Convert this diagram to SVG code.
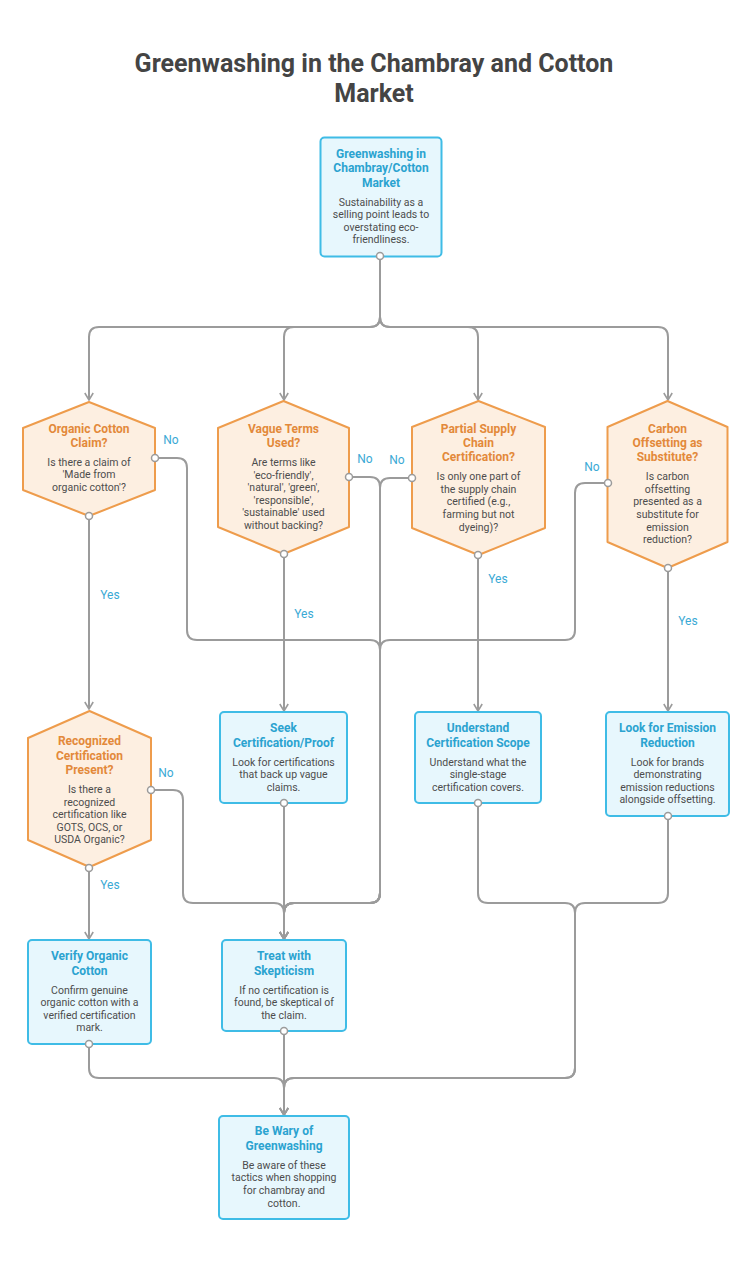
<svg xmlns="http://www.w3.org/2000/svg" width="753" height="1267" viewBox="0 0 753 1267">
<style>
.bg{fill:#ffffff}
.box{fill:#E7F7FD;stroke:#3FBCE6;stroke-width:2}
.hex{fill:#FDEFE1;stroke:#EE9C4C;stroke-width:2;stroke-linejoin:round}
.bt{font-family:Roboto,"Liberation Sans",sans-serif;font-weight:bold;font-size:12px;fill:#2BA3D0;text-anchor:middle;dominant-baseline:central}
.ht{font-family:Roboto,"Liberation Sans",sans-serif;font-weight:bold;font-size:12px;fill:#E3893A;text-anchor:middle;dominant-baseline:central}
.tx{font-family:Roboto,"Liberation Sans",sans-serif;font-size:10.5px;fill:#4d4d4d;text-anchor:middle;dominant-baseline:central}
.lb{font-family:Roboto,"Liberation Sans",sans-serif;font-size:12px;fill:#3AA9D5;text-anchor:middle;dominant-baseline:central}
.title{font-family:Roboto,"Liberation Sans",sans-serif;font-weight:bold;font-size:25px;fill:#444444;text-anchor:middle}
.c{fill:none;stroke:#9B9B9B;stroke-width:2}
.dot{fill:#ffffff;stroke:#9B9B9B;stroke-width:1.5}
</style>
<defs>
<marker id="arr" viewBox="0 0 10 10" refX="9" refY="5" markerWidth="10" markerHeight="10" markerUnits="userSpaceOnUse" orient="auto">
<path d="M2,0.8 L9,5 L2,9.2" fill="none" stroke="#9B9B9B" stroke-width="1.6"/>
</marker>
</defs>
<rect class="bg" x="0" y="0" width="753" height="1267"/>
<text class="title" x="374" y="72">Greenwashing in the Chambray and Cotton</text>
<text class="title" x="374" y="102">Market</text>

<g id="connectors">
<path class="c" marker-end="url(#arr)" d="M380,256 V317 Q380,327 370,327 H99 Q89,327 89,337 V400"/>
<path class="c" marker-end="url(#arr)" d="M380,256 V317 Q380,327 370,327 H294 Q284,327 284,337 V400"/>
<path class="c" marker-end="url(#arr)" d="M380,256 V317 Q380,327 390,327 H468 Q478,327 478,337 V400"/>
<path class="c" marker-end="url(#arr)" d="M380,256 V317 Q380,327 390,327 H658 Q668,327 668,337 V400"/>
<path class="c" marker-end="url(#arr)" d="M89,516 V709"/>
<path class="c" marker-end="url(#arr)" d="M284,554 V711"/>
<path class="c" marker-end="url(#arr)" d="M478,555 V711"/>
<path class="c" marker-end="url(#arr)" d="M668,568 V711"/>
<path class="c" marker-end="url(#arr)" d="M155,458 H177 Q187,458 187,468 V630 Q187,640 197,640 H370 Q380,640 380,650 V893 Q380,903 370,903 H294 Q284,903 284,913 V939"/>
<path class="c" marker-end="url(#arr)" d="M349,477 H370 Q380,477 380,487 V893 Q380,903 370,903 H294 Q284,903 284,913 V939"/>
<path class="c" marker-end="url(#arr)" d="M412,478 H390 Q380,478 380,488 V893 Q380,903 370,903 H294 Q284,903 284,913 V939"/>
<path class="c" marker-end="url(#arr)" d="M608,483 H585 Q575,483 575,493 V630 Q575,640 565,640 H390 Q380,640 380,650 V893 Q380,903 370,903 H294 Q284,903 284,913 V939"/>
<path class="c" marker-end="url(#arr)" d="M151,790 H173 Q183,790 183,800 V893 Q183,903 193,903 H274 Q284,903 284,913 V939"/>
<path class="c" marker-end="url(#arr)" d="M284,803 V939"/>
<path class="c" marker-end="url(#arr)" d="M89,868 V939"/>
<path class="c" marker-end="url(#arr)" d="M478,803 V893 Q478,903 488,903 H565 Q575,903 575,913 V1068 Q575,1078 565,1078 H294 Q284,1078 284,1088 V1115"/>
<path class="c" marker-end="url(#arr)" d="M668,816 V893 Q668,903 658,903 H585 Q575,903 575,913 V1068 Q575,1078 565,1078 H294 Q284,1078 284,1088 V1115"/>
<path class="c" marker-end="url(#arr)" d="M89,1044 V1068 Q89,1078 99,1078 H274 Q284,1078 284,1088 V1115"/>
<path class="c" marker-end="url(#arr)" d="M284,1031 V1115"/>
<text class="lb" x="110" y="595">Yes</text>
<text class="lb" x="304" y="614">Yes</text>
<text class="lb" x="498" y="579">Yes</text>
<text class="lb" x="688" y="621">Yes</text>
<text class="lb" x="110" y="885">Yes</text>
<text class="lb" x="171" y="440">No</text>
<text class="lb" x="365" y="459">No</text>
<text class="lb" x="397" y="460">No</text>
<text class="lb" x="592" y="467">No</text>
<text class="lb" x="166" y="773">No</text>
</g>

<g id="n-top">
<rect class="box" x="320.5" y="137.5" width="121" height="119" rx="4"/>
<text class="bt" x="381" y="154">Greenwashing in</text>
<text class="bt" x="381" y="168">Chambray/Cotton</text>
<text class="bt" x="381" y="183">Market</text>
<text class="tx" x="381" y="202.5">Sustainability as a</text>
<text class="tx" x="381" y="214.5">selling point leads to</text>
<text class="tx" x="381" y="227">overstating eco-</text>
<text class="tx" x="381" y="239.5">friendliness.</text>
</g>

<g id="n-organic">
<polygon class="hex" points="89,402 155,428 155,490 89,516 23,490 23,428"/>
<text class="ht" x="89" y="428.5">Organic Cotton</text>
<text class="ht" x="89" y="443">Claim?</text>
<text class="tx" x="89" y="462">Is there a claim of</text>
<text class="tx" x="89" y="474.5">'Made from</text>
<text class="tx" x="89" y="487">organic cotton'?</text>
</g>

<g id="n-vague">
<polygon class="hex" points="283.5,401 349,428 349,527 283.5,554 218,527 218,428"/>
<text class="ht" x="283.5" y="428.5">Vague Terms</text>
<text class="ht" x="283.5" y="443">Used?</text>
<text class="tx" x="283.5" y="462">Are terms like</text>
<text class="tx" x="283.5" y="475">'eco-friendly',</text>
<text class="tx" x="283.5" y="487.5">'natural', 'green',</text>
<text class="tx" x="283.5" y="500">'responsible',</text>
<text class="tx" x="283.5" y="512.5">'sustainable' used</text>
<text class="tx" x="283.5" y="525">without backing?</text>
</g>

<g id="n-partial">
<polygon class="hex" points="478.5,401 545,427 545,528 478.5,555 412,528 412,427"/>
<text class="ht" x="478.5" y="428.5">Partial Supply</text>
<text class="ht" x="478.5" y="442.5">Chain</text>
<text class="ht" x="478.5" y="456.5">Certification?</text>
<text class="tx" x="478.5" y="476">Is only one part of</text>
<text class="tx" x="478.5" y="489">the supply chain</text>
<text class="tx" x="478.5" y="501">certified (e.g.,</text>
<text class="tx" x="478.5" y="514">farming but not</text>
<text class="tx" x="478.5" y="527">dyeing)?</text>
</g>

<g id="n-carbon">
<polygon class="hex" points="667.5,401 727.5,427 727.5,542 667.5,568 607.5,542 607.5,427"/>
<text class="ht" x="667.5" y="428.5">Carbon</text>
<text class="ht" x="667.5" y="442.5">Offsetting as</text>
<text class="ht" x="667.5" y="456.5">Substitute?</text>
<text class="tx" x="667.5" y="476">Is carbon</text>
<text class="tx" x="667.5" y="489">offsetting</text>
<text class="tx" x="667.5" y="501">presented as a</text>
<text class="tx" x="667.5" y="514">substitute for</text>
<text class="tx" x="667.5" y="527">emission</text>
<text class="tx" x="667.5" y="539">reduction?</text>
</g>

<g id="n-recognized">
<polygon class="hex" points="89.5,711 151,738 151,840 89.5,867 28,840 28,738"/>
<text class="ht" x="89.5" y="741">Recognized</text>
<text class="ht" x="89.5" y="755.5">Certification</text>
<text class="ht" x="89.5" y="770">Present?</text>
<text class="tx" x="89.5" y="789">Is there a</text>
<text class="tx" x="89.5" y="802">recognized</text>
<text class="tx" x="89.5" y="814">certification like</text>
<text class="tx" x="89.5" y="827">GOTS, OCS, or</text>
<text class="tx" x="89.5" y="839">USDA Organic?</text>
</g>

<g id="n-seek">
<rect class="box" x="220" y="712" width="127" height="91" rx="4"/>
<text class="bt" x="283.5" y="728">Seek</text>
<text class="bt" x="283.5" y="742.5">Certification/Proof</text>
<text class="tx" x="283.5" y="762">Look for certifications</text>
<text class="tx" x="283.5" y="774.5">that back up vague</text>
<text class="tx" x="283.5" y="787">claims.</text>
</g>

<g id="n-understand">
<rect class="box" x="415" y="712" width="126" height="91" rx="4"/>
<text class="bt" x="478" y="728">Understand</text>
<text class="bt" x="478" y="742.5">Certification Scope</text>
<text class="tx" x="478" y="762">Understand what the</text>
<text class="tx" x="478" y="774.5">single-stage</text>
<text class="tx" x="478" y="787">certification covers.</text>
</g>

<g id="n-emission">
<rect class="box" x="606" y="712" width="123" height="104" rx="4"/>
<text class="bt" x="667.5" y="728">Look for Emission</text>
<text class="bt" x="667.5" y="742.5">Reduction</text>
<text class="tx" x="667.5" y="762">Look for brands</text>
<text class="tx" x="667.5" y="774.5">demonstrating</text>
<text class="tx" x="667.5" y="787">emission reductions</text>
<text class="tx" x="667.5" y="799.5">alongside offsetting.</text>
</g>

<g id="n-verify">
<rect class="box" x="28" y="940" width="123" height="104" rx="4"/>
<text class="bt" x="89.5" y="956">Verify Organic</text>
<text class="bt" x="89.5" y="970.5">Cotton</text>
<text class="tx" x="89.5" y="990.5">Confirm genuine</text>
<text class="tx" x="89.5" y="1002.5">organic cotton with a</text>
<text class="tx" x="89.5" y="1015">verified certification</text>
<text class="tx" x="89.5" y="1027.5">mark.</text>
</g>

<g id="n-treat">
<rect class="box" x="222" y="940" width="124" height="91" rx="4"/>
<text class="bt" x="284" y="956">Treat with</text>
<text class="bt" x="284" y="970.5">Skepticism</text>
<text class="tx" x="284" y="990.5">If no certification is</text>
<text class="tx" x="284" y="1002.5">found, be skeptical of</text>
<text class="tx" x="284" y="1015">the claim.</text>
</g>

<g id="n-wary">
<rect class="box" x="219" y="1116" width="130" height="103" rx="4"/>
<text class="bt" x="284" y="1131">Be Wary of</text>
<text class="bt" x="284" y="1145.5">Greenwashing</text>
<text class="tx" x="284" y="1165">Be aware of these</text>
<text class="tx" x="284" y="1177.5">tactics when shopping</text>
<text class="tx" x="284" y="1190">for chambray and</text>
<text class="tx" x="284" y="1203">cotton.</text>
</g>

<g id="dots">
<circle class="dot" cx="380" cy="256" r="3.5"/>
<circle class="dot" cx="155" cy="458" r="3.5"/>
<circle class="dot" cx="89" cy="516" r="3.5"/>
<circle class="dot" cx="349" cy="477" r="3.5"/>
<circle class="dot" cx="284" cy="554" r="3.5"/>
<circle class="dot" cx="412" cy="478" r="3.5"/>
<circle class="dot" cx="478" cy="555" r="3.5"/>
<circle class="dot" cx="608" cy="483" r="3.5"/>
<circle class="dot" cx="668" cy="568" r="3.5"/>
<circle class="dot" cx="151" cy="790" r="3.5"/>
<circle class="dot" cx="89" cy="868" r="3.5"/>
<circle class="dot" cx="284" cy="803" r="3.5"/>
<circle class="dot" cx="478" cy="803" r="3.5"/>
<circle class="dot" cx="668" cy="816" r="3.5"/>
<circle class="dot" cx="89" cy="1044" r="3.5"/>
<circle class="dot" cx="284" cy="1031" r="3.5"/>
</g>
</svg>
